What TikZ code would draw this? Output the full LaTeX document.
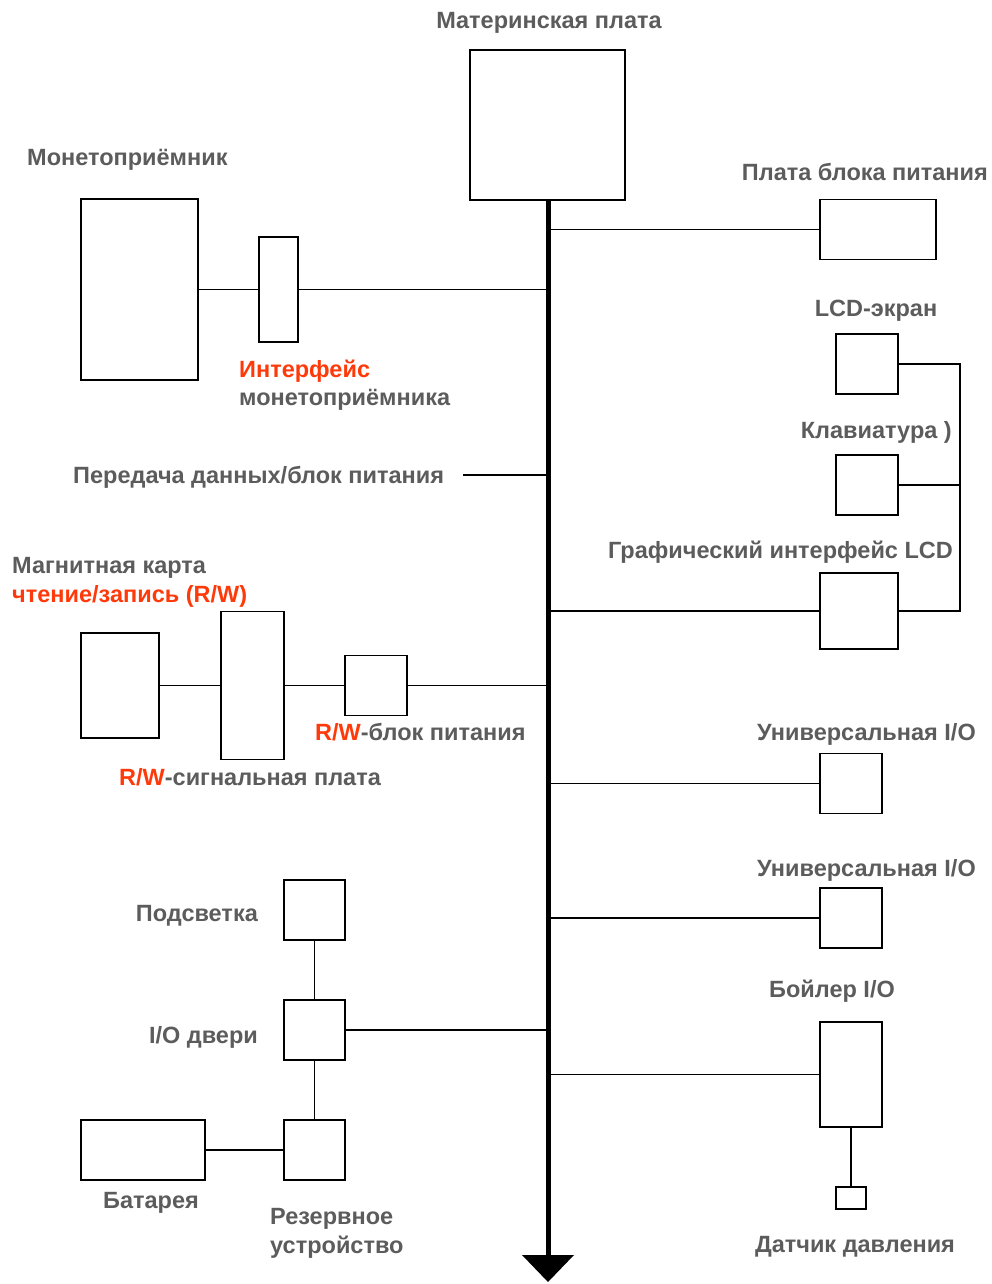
\documentclass[tikz,border=0pt]{standalone}
\usepackage{fontspec}
\setmainfont{Liberation Sans}
\definecolor{tgray}{HTML}{5C5C5C}
\definecolor{tred}{HTML}{FF3A0A}
\begin{document}
\begin{tikzpicture}[x=1pt,y=-1pt,
  bx/.style={draw, line width=1.6pt, inner sep=0pt},
  ln/.style={line width=1.5pt},
  lbl/.style={font=\fontsize{23.5}{27}\selectfont\bfseries, text=tgray, inner sep=0pt, text height=16.8pt, text depth=0pt},
  rd/.style={text=tred}]
\useasboundingbox (0,0) rectangle (992,1284);
\fill[white] (0,0) rectangle (992,1284);

% motherboard and bus
\node[bx, minimum width=155pt, minimum height=150pt] (mb) at (547.5,125) {};
\node[lbl] (lmb) at (549,20) {Материнская плата};
\coordinate (bus) at (548,200);
\coordinate (busend) at (548,1258);
\draw[line width=5pt] (bus) -- (busend);
\fill (522,1255) -- (574,1255) -- (548,1282) -- cycle;

% coin acceptor
\node[lbl, anchor=west] (lcoin) at (27,157) {Монетоприёмник};
\node[bx, minimum width=117pt, minimum height=181pt] (coin) at (139.5,289.5) {};
\node[bx, minimum width=39pt, minimum height=105pt] (coinif) at (278.5,289.5) {};
\draw[ln] (coin.east) -- (coinif.west);
\draw[ln] (coinif.east) -- (coinif.east -| bus);
\node[lbl, anchor=west, rd] (lcoinif1) at (239,369) {Интерфейс};
\node[lbl, anchor=west] (lcoinif2) at (239,397) {монетоприёмника};

% data / power
\node[lbl, anchor=west] (ldata) at (73,475) {Передача данных/блок питания};
\coordinate (dataend) at (463,475);
\draw[ln] (dataend) -- (dataend -| bus);

% power supply board
\node[lbl, anchor=east] (lpsu) at (988,172) {Плата блока питания};
\node[bx, minimum width=116pt, minimum height=60pt] (psu) at (878,229.5) {};
\draw[ln] (psu.west) -- (psu.west -| bus);

% LCD group
\node[lbl] (llcd) at (876,308) {LCD-экран};
\node[bx, minimum width=62pt, minimum height=60pt] (lcd) at (867,364) {};
\node[lbl, anchor=east] (lkbd) at (952,430) {Клавиатура )};
\node[bx, minimum width=62pt, minimum height=60pt] (kbd) at (867,485) {};
\node[lbl, anchor=east] (lglcd) at (953,550) {Графический интерфейс LCD};
\node[bx, minimum width=78pt, minimum height=76pt] (glcd) at (859,611) {};
\coordinate (rt) at (960,364);
\coordinate (rb) at (960,611);
\draw[ln] (lcd.east) -- (rt) -- (rb) -- (glcd.east);
\draw[ln] (kbd.east) -- (kbd.east -| rt);
\draw[ln] (glcd.west) -- (glcd.west -| bus);

% magnetic card
\node[lbl, anchor=west] (lmag1) at (12,565) {Магнитная карта};
\node[lbl, anchor=west, rd] (lmag2) at (12,594) {чтение/запись (R/W)};
\node[bx, minimum width=78pt, minimum height=105pt] (card) at (120,685.5) {};
\node[bx, minimum width=63pt, minimum height=148pt] (sig) at (252.5,685.5) {};
\node[bx, minimum width=62pt, minimum height=60pt] (rwp) at (376,685.5) {};
\draw[ln] (card.east) -- (sig.west);
\draw[ln] (sig.east) -- (rwp.west);
\draw[ln] (rwp.east) -- (rwp.east -| bus);
\node[lbl, anchor=west] (lrwp) at (315,732) {\textcolor{tred}{R/W}-блок питания};
\node[lbl, anchor=west] (lsig) at (119,777) {\textcolor{tred}{R/W}-сигнальная плата};

% universal I/O
\node[lbl, anchor=east] (lu1) at (976,732) {Универсальная I/O};
\node[bx, minimum width=62pt, minimum height=60pt] (u1) at (851,783.5) {};
\draw[ln] (u1.west) -- (u1.west -| bus);
\node[lbl, anchor=east] (lu2) at (976,868) {Универсальная I/O};
\node[bx, minimum width=62pt, minimum height=60pt] (u2) at (851,918) {};
\draw[ln] (u2.west) -- (u2.west -| bus);

% boiler
\node[lbl] (lboil) at (832,989) {Бойлер I/O};
\node[bx, minimum width=62pt, minimum height=105pt] (boil) at (851,1074.5) {};
\draw[ln] (boil.west) -- (boil.west -| bus);
\node[bx, minimum width=30pt, minimum height=22pt] (press) at (851,1198) {};
\draw[ln] (boil.south) -- (press.north);
\node[lbl] (lpress) at (855,1244) {Датчик давления};

% door group
\node[lbl, anchor=east] (lback) at (258,913) {Подсветка};
\node[bx, minimum width=61pt, minimum height=60pt] (back) at (314.5,910) {};
\node[lbl, anchor=east] (ldoor) at (258,1035) {I/O двери};
\node[bx, minimum width=61pt, minimum height=60pt] (door) at (314.5,1030) {};
\draw[ln] (back.south) -- (door.north);
\draw[ln] (door.east) -- (door.east -| bus);
\node[bx, minimum width=61pt, minimum height=60pt] (resv) at (314.5,1150) {};
\draw[ln] (door.south) -- (resv.north);
\node[bx, minimum width=124pt, minimum height=60pt] (bat) at (143,1150) {};
\draw[ln] (bat.east) -- (resv.west);
\node[lbl] (lbat) at (151,1200) {Батарея};
\node[lbl, anchor=west] (lresv1) at (270,1216) {Резервное};
\node[lbl, anchor=west] (lresv2) at (270,1245) {устройство};
\end{tikzpicture}
\end{document}
